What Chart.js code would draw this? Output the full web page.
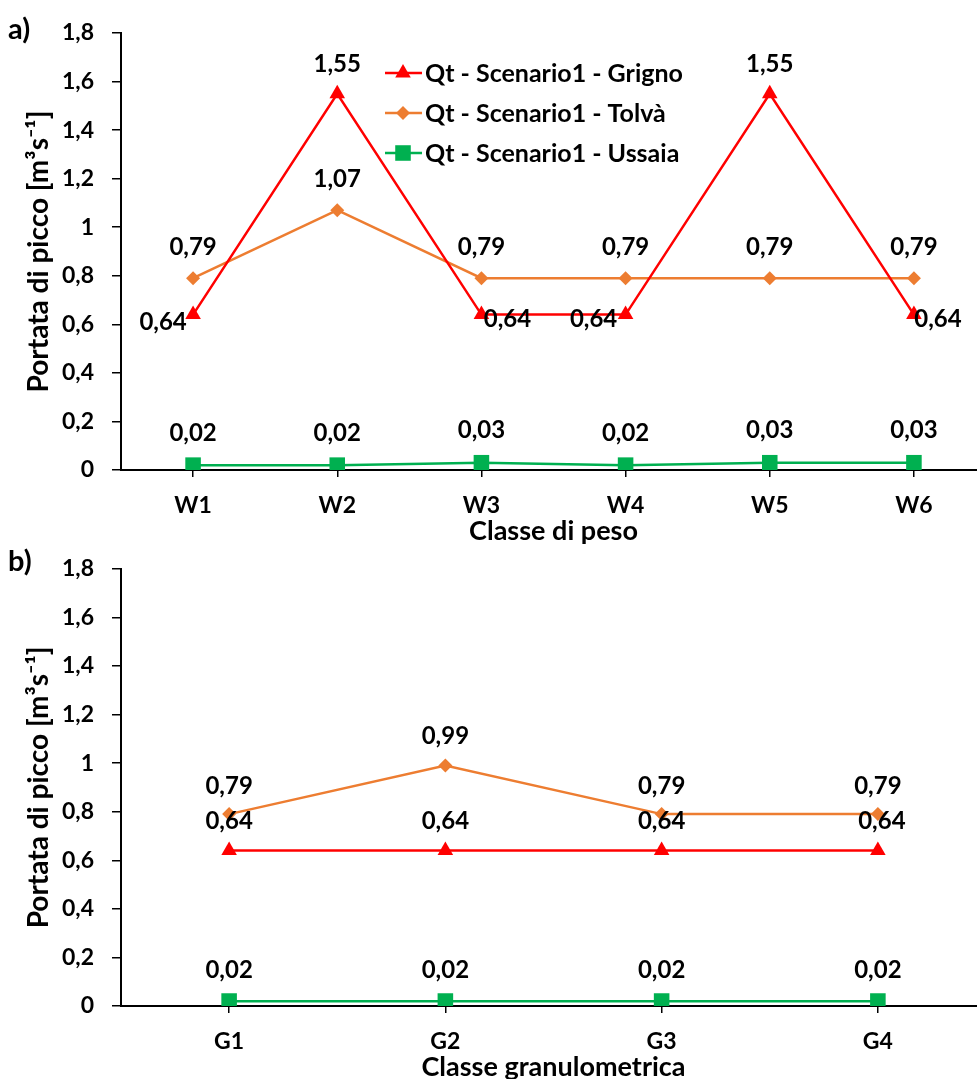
<!DOCTYPE html>
<html>
<head>
<meta charset="utf-8">
<script src="https://cdn.jsdelivr.net/npm/chart.js@4.4.0/dist/chart.umd.min.js"></script>
<style>
  html, body { margin: 0; padding: 0; background: #fff; overflow: hidden; width: 977px; height: 1079px; }
  .panel { position: absolute; left: 0; }
  .panel canvas { display: block; }
  .tag { position: absolute; left: 8px; font: bold 29px Lato, sans-serif; color: #000; line-height: 32px; }
</style>
</head>
<body>
<div class="panel" style="top:0"><canvas id="chartA" width="1000" height="552"></canvas></div>
<div class="panel" style="top:537px"><canvas id="chartB" width="1000" height="560"></canvas></div>
<div class="tag" style="top:12px">a)</div>
<div class="tag" style="top:544px">b)</div>
<script>
// categories
const classiPeso = ['W1', 'W2', 'W3', 'W4', 'W5', 'W6'];
const classiGranulo = ['G1', 'G2', 'G3', 'G4'];

// peak discharge values, panel a)
const grignoA = [0.64, 1.55, 0.64, 0.64, 1.55, 0.64];
const tolvaA  = [0.79, 1.07, 0.79, 0.79, 0.79, 0.79];
const ussaiaA = [0.02, 0.02, 0.03, 0.02, 0.03, 0.03];

// peak discharge values, panel b)
const grignoB = [0.64, 0.64, 0.64, 0.64];
const tolvaB  = [0.79, 0.99, 0.79, 0.79];
const ussaiaB = [0.02, 0.02, 0.02, 0.02];

const nomi = ['Qt - Scenario1 - Grigno', 'Qt - Scenario1 - Tolvà', 'Qt - Scenario1 - Ussaia'];
const yTicks = [0, 0.2, 0.4, 0.6, 0.8, 1, 1.2, 1.4, 1.6, 1.8];

const FONT = 'Lato, sans-serif';
const fmt = v => String(Math.round(v * 100) / 100).replace('.', ',');

// where each value label sits relative to its point
const offA = [
  [[-30, 8], [0, -29], [26, 5], [-32, 5], [0, -29], [24, 5]],
  [[0, -31], [0, -31], [0, -31], [0, -31], [0, -31], [0, -31]],
  [[0, -32], [0, -32], [0, -32], [0, -32], [0, -32], [0, -32]]
];
const offB = [
  [[0, -29], [0, -29], [0, -29], [4, -29]],
  [[0, -28], [0, -29], [0, -28], [0, -28]],
  [[0, -31], [0, -31], [0, -31], [0, -31]]
];

function marker(ctx, style, x, y, r) {
  ctx.beginPath();
  if (style === 'triangle') {
    ctx.moveTo(x, y - r);
    ctx.lineTo(x + r * 0.866, y + r * 0.5);
    ctx.lineTo(x - r * 0.866, y + r * 0.5);
  } else if (style === 'rectRot') {
    ctx.moveTo(x - r, y); ctx.lineTo(x, y - r); ctx.lineTo(x + r, y); ctx.lineTo(x, y + r);
  } else {
    const s = r * Math.SQRT1_2;
    ctx.rect(x - s, y - s, 2 * s, 2 * s);
  }
  ctx.closePath();
  ctx.fill();
}

const pointLabels = {
  id: 'pointLabels',
  afterDatasetsDraw(chart) {
    const ctx = chart.ctx;
    ctx.save();
    ctx.font = 'bold 24px ' + FONT;
    ctx.fillStyle = '#000';
    ctx.textAlign = 'center';
    ctx.textBaseline = 'middle';
    chart.data.datasets.forEach((ds, i) => {
      chart.getDatasetMeta(i).data.forEach((pt, j) => {
        const o = ds.labelOffsets[j];
        ctx.fillText(fmt(ds.data[j]), pt.x + o[0], pt.y + o[1]);
      });
    });
    ctx.restore();
  }
};

const boxLegend = {
  id: 'boxLegend',
  afterDraw(chart, args, opts) {
    if (!opts.show) return;
    const ctx = chart.ctx;
    ctx.save();
    ctx.font = 'bold 25px ' + FONT;
    ctx.textBaseline = 'middle';
    ctx.textAlign = 'left';
    chart.data.datasets.forEach((ds, i) => {
      const y = opts.y + i * opts.gap;
      ctx.strokeStyle = ds.borderColor;
      ctx.lineWidth = 2.5;
      ctx.beginPath();
      ctx.moveTo(opts.x, y);
      ctx.lineTo(opts.x + 37, y);
      ctx.stroke();
      ctx.fillStyle = ds.backgroundColor;
      marker(ctx, ds.pointStyle, opts.x + 18, y, ds.pointRadius);
      ctx.fillStyle = '#000';
      ctx.fillText(ds.label, opts.x + 40, y + 1);
    });
    ctx.restore();
  }
};

function serie(label, data, color, style, radius, offsets) {
  return {
    label: label,
    data: data,
    borderColor: color,
    backgroundColor: color,
    borderWidth: 2.5,
    pointStyle: style,
    pointRadius: radius,
    pointHoverRadius: radius,
    pointBorderWidth: 0,
    tension: 0,
    labelOffsets: offsets
  };
}

function makeChart(id, cats, g, t, u, offs, xTitle, pad, showLegend) {
  return new Chart(document.getElementById(id), {
    type: 'line',
    data: {
      labels: cats,
      datasets: [
        serie(nomi[0], g, '#ff0000', 'triangle', 9, offs[0]),
        serie(nomi[1], t, '#ed7d31', 'rectRot', 7, offs[1]),
        serie(nomi[2], u, '#00b050', 'rect', 11, offs[2])
      ]
    },
    options: {
      responsive: false,
      animation: false,
      layout: { padding: pad },
      plugins: {
        legend: { display: false },
        tooltip: { enabled: false },
        boxLegend: { show: showLegend, x: 385, y: 73, gap: 40 }
      },
      scales: {
        x: {
          offset: true,
          grid: { drawOnChartArea: false, drawTicks: true, tickLength: 7, color: '#000', lineWidth: 1.5 },
          border: { display: true, color: '#000', width: 2 },
          ticks: { color: '#000', font: { family: FONT, size: 23, weight: 'bold' }, padding: 15, maxRotation: 0 },
          title: { display: true, text: xTitle, color: '#000', font: { family: FONT, size: 27, weight: 'bold' }, padding: 0 },
          afterFit: s => { s.height = 77; }
        },
        y: {
          min: 0,
          max: 1.8,
          afterBuildTicks: s => { s.ticks = yTicks.map(v => ({ value: v })); },
          grid: { drawOnChartArea: false, drawTicks: true, tickLength: 9, color: '#000', lineWidth: 1.5 },
          border: { display: true, color: '#000', width: 2 },
          ticks: { color: '#000', font: { family: FONT, size: 23, weight: 'bold' }, padding: 18, callback: v => fmt(v) },
          title: { display: true, text: 'Portata di picco [m³s⁻¹]', color: '#000', font: { family: FONT, size: 28, weight: 'bold' }, padding: 0 },
          afterFit: s => { s.width = 99; }
        }
      }
    },
    plugins: [pointLabels, boxLegend]
  });
}

makeChart('chartA', classiPeso, grignoA, tolvaA, ussaiaA, offA, 'Classe di peso',
  { left: 22, top: 33, right: 14, bottom: 5 }, true);
makeChart('chartB', classiGranulo, grignoB, tolvaB, ussaiaB, offB, 'Classe granulometrica',
  { left: 22, top: 17, right: 14, bottom: 14 }, false);
</script>
</body>
</html>
